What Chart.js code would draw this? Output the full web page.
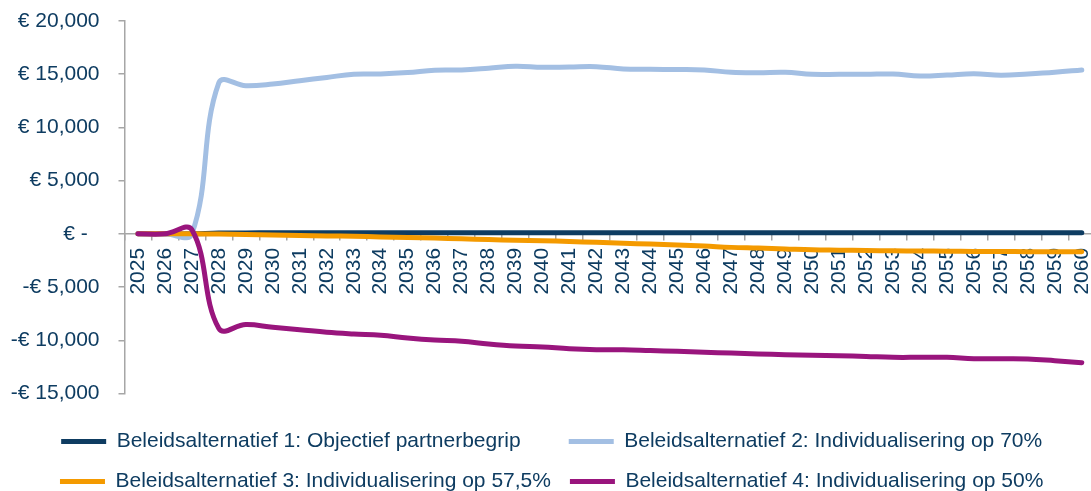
<!DOCTYPE html>
<html>
<head>
<meta charset="utf-8">
<script src="https://cdn.jsdelivr.net/npm/chart.js@4.4.1/dist/chart.umd.min.js"></script>
<style>
    html, body { margin: 0; padding: 0; background: #ffffff; overflow: hidden; }
    #wrap { width: 1115px; height: 502px; position: relative; }
</style>
</head>
<body>
<div id="wrap"><canvas id="myChart"></canvas></div>
<script>
let jaren = [];
for (let j = 2025; j <= 2060; j++) {
    jaren.push(String(j));
}

let namen = [
    "Beleidsalternatief 1: Objectief partnerbegrip",
    "Beleidsalternatief 2: Individualisering op 70%",
    "Beleidsalternatief 3: Individualisering op 57,5%",
    "Beleidsalternatief 4: Individualisering op 50%"
];

let kleuren = ["#0E3C61", "#A3BFE3", "#F49A00", "#99157D"];

let alternatief_1 = [0, 0, 0, 80, 90, 100, 100, 100, 100, 100, 100, 100, 100, 100, 100, 100, 100, 100,
    100, 100, 100, 100, 100, 100, 100, 100, 100, 100, 100, 100, 100, 100, 100, 100, 100, 100];

let alternatief_2 = [0, 0, 0, 14200, 13920, 14080, 14390, 14700, 15000, 15020, 15150, 15370, 15400, 15560,
    15750, 15650, 15680, 15710, 15490, 15460, 15440, 15400, 15180, 15140, 15180, 14990, 14990, 14990,
    15020, 14830, 14920, 15050, 14900, 15020, 15180, 15400];

let alternatief_3 = [0, 0, 0, -20, -60, -100, -150, -190, -230, -290, -340, -400, -470, -540,
    -600, -650, -720, -800, -880, -960, -1050, -1150, -1270, -1340, -1420, -1500, -1530, -1560,
    -1590, -1610, -1630, -1650, -1660, -1670, -1680, -1690];

let alternatief_4 = [0, 0, 380, -8900, -8520, -8780, -9000, -9250, -9410, -9530, -9780, -9970, -10090,
    -10340, -10530, -10630, -10790, -10880, -10900, -10970, -11040, -11120, -11200, -11280, -11350,
    -11400, -11450, -11520, -11600, -11600, -11600, -11730, -11740, -11760, -11920, -12100];

let reeksen = [alternatief_1, alternatief_2, alternatief_3, alternatief_4];

let y_min = -15000;
let y_max = 20000;
let y_stap = 5000;

const tekstkleur = "#0E3C61";
const asgrijs = "#A6A6A6";
const lettertype = "'Liberation Sans', Arial, sans-serif";

function euro_label(waarde) {
    if (waarde === 0) {
        return "€ -  ";
    }
    let bedrag = Math.abs(waarde).toLocaleString("en-US");
    return (waarde < 0 ? "-€ " : "€ ") + bedrag;
}

// legenda in twee kolommen: eerste item even breed maken als het derde
function legenda_labels(chart) {
    let items = Chart.defaults.plugins.legend.labels.generateLabels(chart);
    items.sort((a, b) => a.datasetIndex - b.datasetIndex);
    items[0].text = items[0].text + "     ";
    items[1].text = items[1].text + "  ";
    items[3].text = items[3].text + "  ";
    return items;
}

function afficher_graph() {
    const ctx = document.getElementById('myChart');

    let datasets = reeksen.map((reeks, i) => {
        return {
            label: namen[i],
            data: reeks,
            borderColor: kleuren[i],
            backgroundColor: kleuren[i],
            borderWidth: 5,
            borderCapStyle: 'round',
            borderJoinStyle: 'round',
            pointRadius: 0,
            tension: 0.4,
            fill: false,
            order: 4 - i
        };
    });

    new Chart(ctx, {
        type: 'line',
        data: {
            labels: jaren,
            datasets: datasets
        },
        options: {
            responsive: true,
            maintainAspectRatio: false,
            animation: false,
            layout: {
                padding: { top: 0, left: 0, right: 0, bottom: 0 }
            },
            plugins: {
                tooltip: { enabled: false },
                legend: {
                    position: 'bottom',
                    align: 'center',
                    title: {
                        display: true,
                        text: '',
                        font: { size: 10 },
                        padding: { top: 6.5, bottom: 0 }
                    },
                    labels: {
                        color: tekstkleur,
                        font: { family: lettertype, size: 21 },
                        usePointStyle: true,
                        pointStyle: 'line',
                        pointStyleWidth: 45,
                        padding: 19,
                        generateLabels: legenda_labels
                    }
                }
            },
            scales: {
                x: {
                    type: 'category',
                    position: { y: 0 },
                    offset: true,
                    grid: {
                        offset: true,
                        drawOnChartArea: false,
                        drawTicks: true,
                        tickLength: 6,
                        color: asgrijs,
                        lineWidth: 1.5
                    },
                    border: { color: asgrijs, width: 1.5 },
                    ticks: {
                        color: tekstkleur,
                        font: { family: lettertype, size: 21 },
                        minRotation: 90,
                        maxRotation: 90,
                        autoSkip: false,
                        padding: 8
                    }
                },
                y: {
                    min: y_min,
                    max: y_max,
                    afterFit: (scale) => {
                        scale.width = 124.5;
                        scale.paddingTop = 21;
                        scale.paddingBottom = 10;
                    },
                    grid: {
                        drawOnChartArea: false,
                        drawTicks: true,
                        tickLength: 6,
                        color: asgrijs,
                        lineWidth: 1.5
                    },
                    border: { color: asgrijs, width: 1.5 },
                    ticks: {
                        stepSize: y_stap,
                        color: tekstkleur,
                        font: { family: lettertype, size: 21 },
                        padding: 19,
                        callback: (waarde) => euro_label(waarde)
                    }
                }
            }
        }
    });
};

afficher_graph();
</script>
</body>
</html>
